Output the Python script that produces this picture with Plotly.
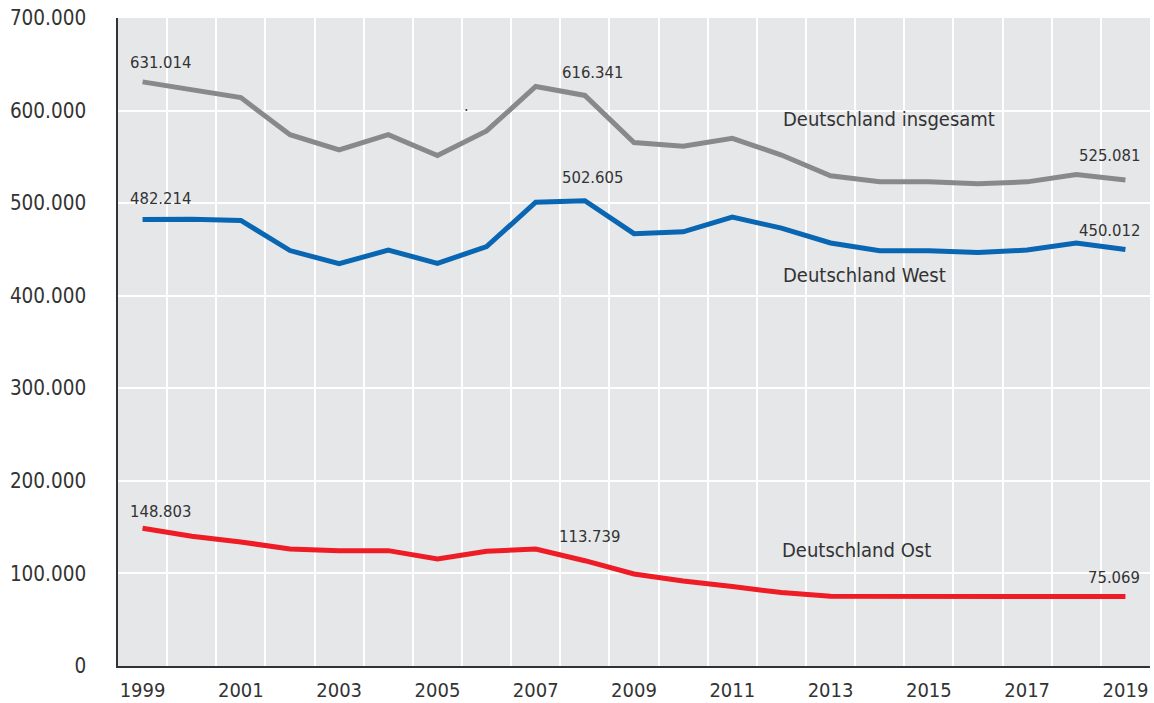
import plotly.graph_objects as go

years = list(range(1999, 2020))
tick_years = [1999, 2001, 2003, 2005, 2007, 2009, 2011, 2013, 2015, 2017, 2019]

insgesamt = [631014, 623000, 614000, 574000, 557500, 574000, 551500, 578000, 626000, 616341,
             565500, 561500, 570000, 552000, 529500, 523000, 523000, 521000, 523000, 531000, 525081]
west = [482214, 482500, 481300, 448800, 434500, 449300, 435000, 453000, 501000, 502605,
        467000, 469000, 485000, 473000, 457000, 448700, 448700, 446600, 449300, 457000, 450012]
ost = [148803, 140200, 134000, 126300, 124600, 124600, 115600, 124000, 126300, 113739,
       99400, 91800, 85800, 79300, 75300, 75069, 75069, 75069, 75069, 75069, 75069]

names = ["Deutschland insgesamt", "Deutschland West", "Deutschland Ost"]
colors = ["#88898b", "#0866b2", "#ee1c25"]

FONT = "DejaVu Sans Condensed, Liberation Sans Narrow, Arial Narrow, sans-serif"
TXT = "#333333"

fig = go.Figure()
for ser, name, col in zip([insgesamt, west, ost], names, colors):
    fig.add_trace(go.Scatter(x=years, y=ser, mode="lines", name=name,
                             line=dict(color=col, width=5), showlegend=False,
                             hoverinfo="skip"))

def fmt(v):
    return f"{v:,}".replace(",", ".")

# value labels: (series, index, anchor, xshift, yshift)
labels = [
    (insgesamt, 0, "left", -15, 19),
    (west, 0, "left", -15, 21),
    (ost, 0, "left", -15, 17),
    (insgesamt, 9, "left", -25, 23),
    (west, 9, "left", -25, 23),
    (ost, 9, "left", -28, 24),
    (insgesamt, 20, "right", 17, 24),
    (west, 20, "right", 17, 19),
    (ost, 20, "right", 17, 19),
]
for ser, i, anc, xs, ys in labels:
    fig.add_annotation(x=years[i], y=ser[i], text=fmt(ser[i]), showarrow=False,
                       xanchor=anc, yanchor="middle", xshift=xs, yshift=ys,
                       font=dict(family=FONT, size=16.5, color=TXT))

# series name labels
name_pos = [(2011.99, 591000), (2011.99, 422500), (2011.97, 125500)]
for (nx, ny), name in zip(name_pos, names):
    fig.add_annotation(x=nx, y=ny, text=name, showarrow=False, xanchor="left",
                       yanchor="middle", font=dict(family=FONT, size=20, color=TXT))

# stray dot in the original
fig.add_annotation(x=2005.6, y=606000, text=".", showarrow=False,
                   font=dict(family=FONT, size=16, color=TXT))

fig.update_layout(
    width=1154, height=703,
    margin=dict(l=118, r=4, t=18, b=37),
    paper_bgcolor="white",
    plot_bgcolor="#e6e7e9",
    separators=",.",
    font=dict(family=FONT, color=TXT),
)
fig.update_xaxes(
    range=[1998.5, 2019.5], automargin=False,
    tickmode="array", tickvals=tick_years, ticktext=[str(y) for y in tick_years],
    showgrid=False, zeroline=False,
    showline=True, linecolor="#333333", linewidth=1.5,
    ticks="", ticklabelstandoff=5,
    tickfont=dict(family=FONT, size=20, color=TXT),
    minor=dict(tick0=1999.5, dtick=1, showgrid=True, gridcolor="white", gridwidth=1.5, ticks=""),
)
fig.update_yaxes(
    range=[0, 700000], tickmode="linear", tick0=0, dtick=100000, automargin=False,
    tickformat=",d",
    showgrid=True, gridcolor="white", gridwidth=1.5, zeroline=False,
    showline=True, linecolor="#333333", linewidth=1.5,
    ticks="", ticklabelstandoff=26,
    tickfont=dict(family=FONT, size=20.5, color=TXT),
)

fig.write_html("out.html", config={"displayModeBar": False},
               post_script="document.body.style.margin='0';document.body.style.overflow='hidden';")
